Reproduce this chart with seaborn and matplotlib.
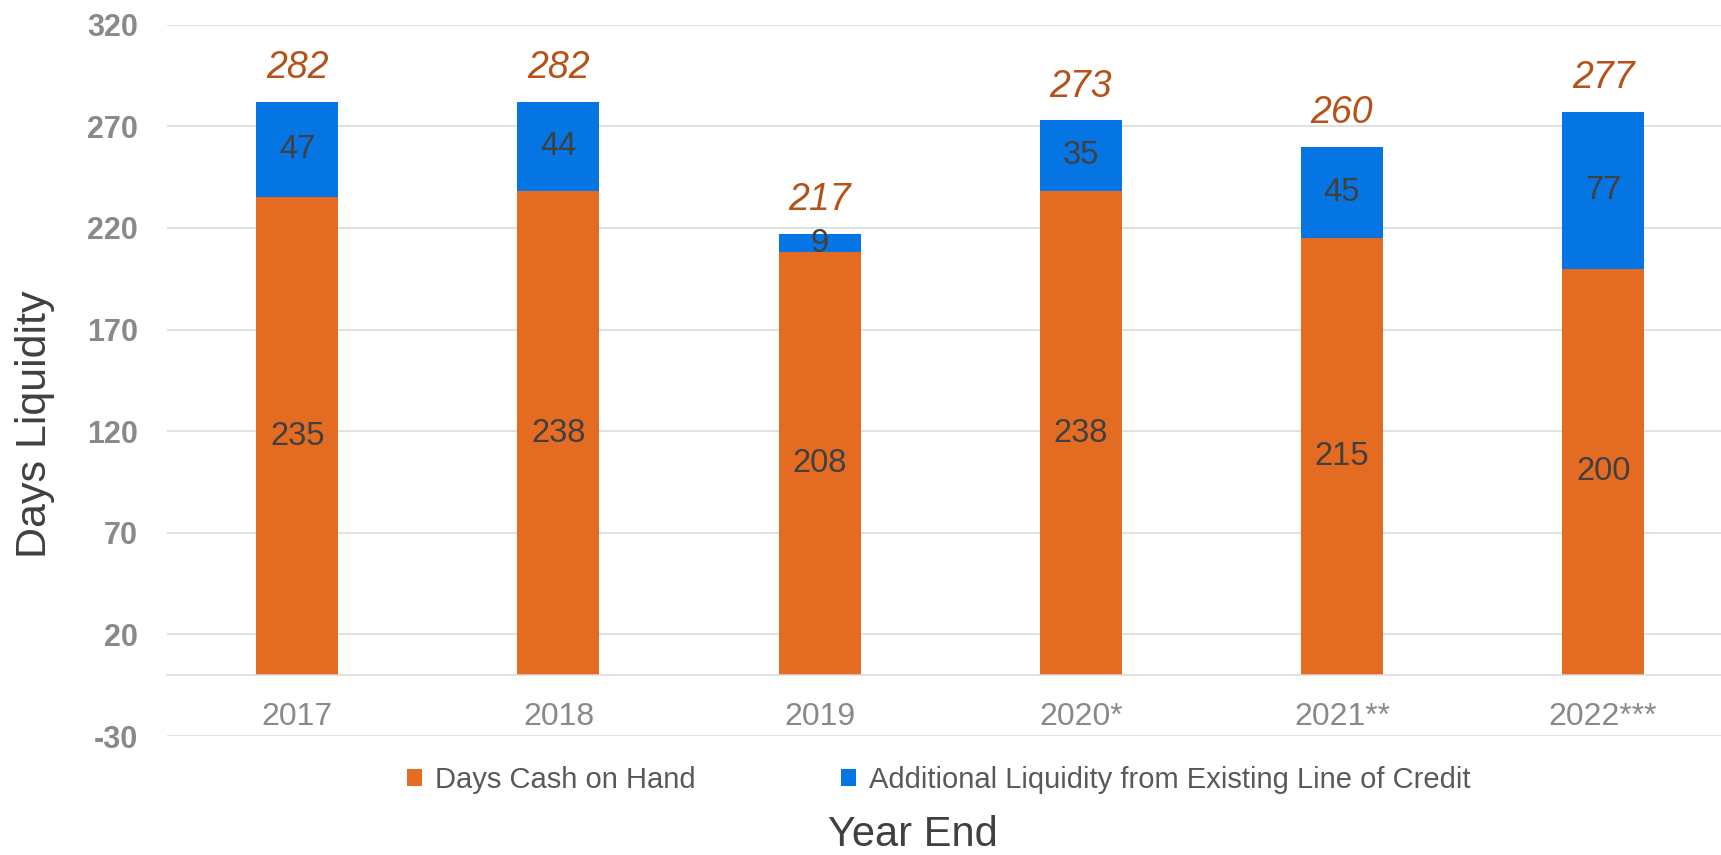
import matplotlib
matplotlib.use("Agg")
import matplotlib.pyplot as plt
import seaborn as sns
import pandas as pd
from matplotlib.patches import Patch

# ---- data ----
years = ["2017", "2018", "2019", "2020*", "2021**", "2022***"]
cash_days = [235, 238, 208, 238, 215, 200]
credit_days = [47, 44, 9, 35, 45, 77]
series_names = ["Days Cash on Hand", "Additional Liquidity from Existing Line of Credit"]
y_ticks = [-30, 20, 70, 120, 170, 220, 270, 320]

totals = [c + l for c, l in zip(cash_days, credit_days)]
df = pd.DataFrame({"year": years, "cash": cash_days, "credit": credit_days, "total": totals})

ORANGE = "#E46B22"
BLUE = "#0575E3"
TICK_GRAY = "#898989"
DARK = "#404040"
TOTAL_COL = "#B4521A"
GRID = "#D9D9D9"

sns.set_theme(style="white")
plt.rcParams["font.family"] = ["Liberation Sans", "DejaVu Sans"]
plt.rcParams["axes.unicode_minus"] = False

fig = plt.figure(figsize=(17.21, 8.55), dpi=100)
ax = fig.add_axes([166.7 / 1721, 1 - 736 / 855, 1567 / 1721, 711.3 / 855])

W = 0.314
sns.barplot(data=df, x="year", y="total", color=BLUE, width=W, ax=ax,
            saturation=1, zorder=3, linewidth=0)
sns.barplot(data=df, x="year", y="cash", color=ORANGE, width=W, ax=ax,
            saturation=1, zorder=3, linewidth=0)

ax.set_ylim(-30, 320)
ax.set_xlim(-0.5, len(years) - 0.5)
ax.set_yticks(y_ticks)
ax.set_yticklabels([str(t) for t in y_ticks])
ax.yaxis.grid(True, color=GRID, linewidth=1.1, zorder=0)
ax.set_axisbelow(True)

for s in ["left", "right", "top"]:
    ax.spines[s].set_visible(False)
ax.spines["bottom"].set_position(("data", 0))
ax.spines["bottom"].set_color(GRID)
ax.spines["bottom"].set_linewidth(1.1)
ax.spines["bottom"].set_zorder(4)

ax.tick_params(axis="y", length=0, pad=20.5, labelsize=22, labelcolor=TICK_GRAY)
ax.tick_params(axis="x", length=0, pad=19.5, labelsize=23, labelcolor=TICK_GRAY)
for lab in ax.get_yticklabels():
    lab.set_fontweight("bold")

# segment labels
for i in range(len(years)):
    c = cash_days[i]
    l = credit_days[i]
    ax.text(i, c / 2, str(c), ha="center", va="center", fontsize=23.5, color=DARK, zorder=5)
    ax.text(i, c + l / 2, str(l), ha="center", va="center", fontsize=23.5, color=DARK, zorder=5)
    ax.annotate(str(totals[i]), xy=(i, totals[i]), xytext=(0, 17), textcoords="offset points",
                ha="center", va="baseline", fontsize=27, fontstyle="italic", color=TOTAL_COL)

ax.set_ylabel("Days Liquidity", fontsize=31, color=DARK)
ax.yaxis.label.set_va("center")
ax.yaxis.set_label_coords(35 / 1721, 1 - 424 / 855, transform=fig.transFigure)
ax.set_xlabel("Year End", fontsize=30, color=DARK)
ax.xaxis.label.set_va("center")
ax.xaxis.set_label_coords(913 / 1721, 1 - 835 / 855, transform=fig.transFigure)

handles = [Patch(facecolor=ORANGE, edgecolor="none"), Patch(facecolor=BLUE, edgecolor="none")]
fig.legend(handles, series_names, loc="center", bbox_to_anchor=(939 / 1721, 1 - 780 / 855),
           ncol=2, frameon=False, fontsize=21, labelcolor="#595959",
           handlelength=0.5, handleheight=0.5, handletextpad=0.45, columnspacing=5.0)

fig.savefig("out.png", dpi=100)
